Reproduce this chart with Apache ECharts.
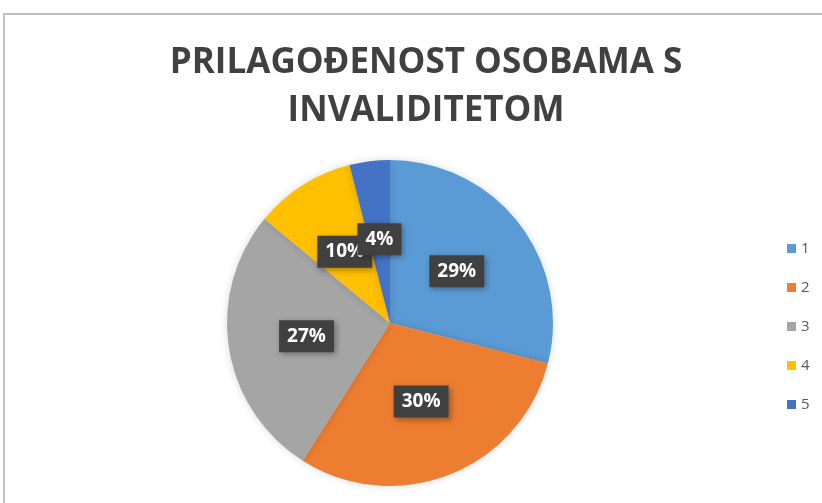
<!DOCTYPE html>
<html>
<head>
<meta charset="utf-8">
<script src="https://cdn.jsdelivr.net/npm/echarts@6/dist/echarts.min.js"></script>
<style>
  html, body { margin: 0; padding: 0; background: #fff; }
  #chart { width: 822px; height: 503px; }
</style>
</head>
<body>
<div id="chart"></div>
<script>
// ocjene i udjeli (u postocima)
const categories = ['1', '2', '3', '4', '5'];
const values = [29, 30, 27, 10, 4];
const colors = ['#5B9BD5', '#ED7D31', '#A5A5A5', '#FFC000', '#4472C4'];
const titleText = 'PRILAGOĐENOST OSOBAMA S\nINVALIDITETOM';

const chart = echarts.init(document.getElementById('chart'));

const option = {
  backgroundColor: '#fff',
  animation: false,
  color: colors,
  graphic: [
    {
      // okvir grafikona
      type: 'rect',
      shape: { x: 4, y: 14, width: 900, height: 600 },
      style: { fill: 'none', stroke: '#c0c0c0', lineWidth: 2 },
      silent: true
    }
  ],
  title: {
    text: titleText,
    left: 421,
    textAlign: 'center',
    top: 34,
    textStyle: {
      fontFamily: 'Open Sans',
      fontWeight: 'bold',
      fontSize: 35,
      lineHeight: 48,
      color: '#404040'
    }
  },
  legend: {
    orient: 'vertical',
    left: 782,
    top: 236,
    itemWidth: 9,
    itemHeight: 9,
    itemGap: 24,
    icon: 'rect',
    textStyle: {
      fontFamily: 'Open Sans',
      fontSize: 15,
      color: '#595959'
    },
    data: categories
  },
  series: [
    {
      type: 'pie',
      center: [390, 323],
      radius: [0, 163],
      startAngle: 90,
      clockwise: true,
      itemStyle: {
        shadowBlur: 8,
        shadowColor: 'rgba(0,0,0,0.15)'
      },
      label: {
        show: true,
        position: 'inside',
        formatter: '{d}%',
        fontFamily: 'Open Sans',
        fontWeight: 'bold',
        fontSize: 19,
        color: '#fff',
        backgroundColor: '#404040',
        padding: [7, 8, 6, 8],
        shadowBlur: 6,
        shadowOffsetX: 2,
        shadowOffsetY: 2,
        shadowColor: 'rgba(0,0,0,0.35)'
      },
      labelLayout: { hideOverlap: false },
      labelLine: { show: false },
      emphasis: { disabled: true },
      data: categories.map((c, i) => ({ name: c, value: values[i] }))
    }
  ]
};

chart.setOption(option);
</script>
</body>
</html>
